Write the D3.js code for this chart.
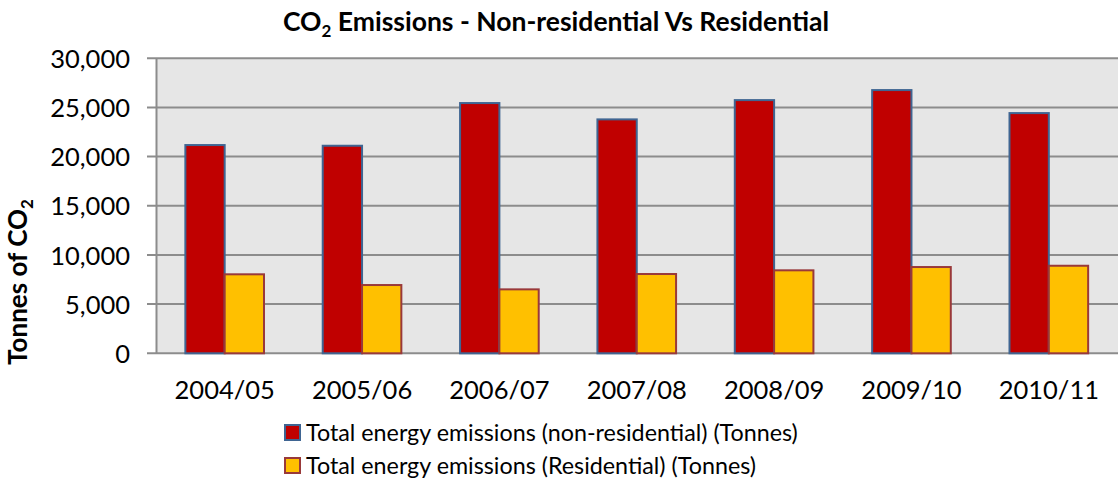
<!DOCTYPE html>
<html>
<head>
<meta charset="utf-8">
<script src="https://cdn.jsdelivr.net/npm/d3@7"></script>
<style>
  body { margin: 0; background: #fff; }
  svg { display: block; font-family: Lato, "Open Sans", sans-serif; }
</style>
</head>
<body>
<svg width="1118" height="481"></svg>
<script>
// chart data
var years = ["2004/05", "2005/06", "2006/07", "2007/08", "2008/09", "2009/10", "2010/11"];
var nonResidential = [21170, 21100, 25440, 23780, 25740, 26760, 24420];
var residential = [8030, 6940, 6500, 8060, 8435, 8770, 8900];
var yTicks = [0, 5000, 10000, 15000, 20000, 25000, 30000];
var seriesNames = ["Total energy emissions (non-residential) (Tonnes)", "Total energy emissions (Residential) (Tonnes)"];

var fills = ["#c00000", "#ffc000"];
var strokes = ["#3f6592", "#99393a"];

var svg = d3.select("svg");
var plotLeft = 156, plotRight = 1117.5, plotTop = 58.2, plotBottom = 353.3;

var data = years.map(function (y, i) {
    return { year: y, values: [nonResidential[i], residential[i]] };
});

var xScale = d3.scaleBand()
    .domain(years)
    .range([plotLeft, plotRight])
    .paddingInner(0.4275)
    .paddingOuter(0.21375);

var sScale = d3.scaleBand()
    .domain([0, 1])
    .range([0, xScale.bandwidth()]);

var yScale = d3.scaleLinear()
    .domain([0, 30000])
    .range([plotBottom, plotTop]);

// plot background
svg.append("rect")
    .attr("x", plotLeft)
    .attr("y", plotTop)
    .attr("width", 1118 - plotLeft)
    .attr("height", plotBottom - plotTop)
    .attr("fill", "#e6e6e6");

// gridlines (with the little tick stubs on the left)
svg.append("g")
    .selectAll("line")
    .data(yTicks)
    .enter()
    .append("line")
    .attr("x1", plotLeft - 9)
    .attr("x2", 1118)
    .attr("y1", function (d) { return yScale(d); })
    .attr("y2", function (d) { return yScale(d); })
    .attr("stroke", "#8c8c8c")
    .attr("stroke-width", 2);

// y axis
var yAxis = svg.append("g")
    .attr("transform", "translate(" + plotLeft + ",0)")
    .call(d3.axisLeft(yScale).tickValues(yTicks).tickSize(0).tickPadding(26).tickFormat(d3.format(",")));
yAxis.select(".domain")
    .attr("stroke", "#8c8c8c")
    .attr("stroke-width", 2);
yAxis.selectAll("text")
    .style("font-family", "Lato, 'Open Sans', sans-serif")
    .style("font-size", "25.5px")
    .attr("fill", "#000")
    .attr("dy", "0.36em");

// bars
var groups = svg.append("g")
    .selectAll("g")
    .data(data)
    .enter()
    .append("g")
    .attr("transform", function (d) { return "translate(" + xScale(d.year) + ",0)"; });

groups.selectAll("rect")
    .data(function (d) { return d.values; })
    .enter()
    .append("rect")
    .attr("x", function (d, i) { return sScale(i); })
    .attr("y", function (d) { return yScale(d); })
    .attr("width", sScale.bandwidth())
    .attr("height", function (d) { return plotBottom - yScale(d); })
    .attr("fill", function (d, i) { return fills[i]; })
    .attr("stroke", function (d, i) { return strokes[i]; })
    .attr("stroke-width", 2);

// x axis labels
var xAxis = svg.append("g")
    .attr("transform", "translate(0," + plotBottom + ")")
    .call(d3.axisBottom(xScale).tickSize(0).tickPadding(28));
xAxis.select(".domain").remove();
xAxis.selectAll("text")
    .style("font-family", "Lato, 'Open Sans', sans-serif")
    .style("font-size", "25.5px")
    .attr("fill", "#000");

// title
var title = svg.append("text")
    .attr("x", 556)
    .attr("y", 31)
    .attr("text-anchor", "middle")
    .style("font-weight", "bold")
    .style("font-size", "26.5px");
title.append("tspan").text("CO");
title.append("tspan").attr("dy", 6).style("font-size", "17px").text("2");
title.append("tspan").attr("dy", -6).text(" Emissions - Non-residential Vs Residential");

// y axis title
var yTitle = svg.append("text")
    .attr("transform", "translate(26.5,282) rotate(-90)")
    .attr("text-anchor", "middle")
    .style("font-weight", "bold")
    .style("font-size", "26px");
yTitle.append("tspan").text("Tonnes of CO");
yTitle.append("tspan").attr("dy", 6).style("font-size", "17px").text("2");

// legend
var legend = svg.append("g")
    .selectAll("g")
    .data(seriesNames)
    .enter()
    .append("g")
    .attr("transform", function (d, i) { return "translate(285," + (425 + i * 33) + ")"; });

legend.append("rect")
    .attr("width", 15)
    .attr("height", 15)
    .attr("fill", function (d, i) { return fills[i]; })
    .attr("stroke", function (d, i) { return strokes[i]; })
    .attr("stroke-width", 2);

legend.append("text")
    .attr("x", 21)
    .attr("y", 7.5)
    .attr("dy", "0.36em")
    .style("font-size", "23.3px")
    .text(function (d) { return d; });
</script>
</body>
</html>
